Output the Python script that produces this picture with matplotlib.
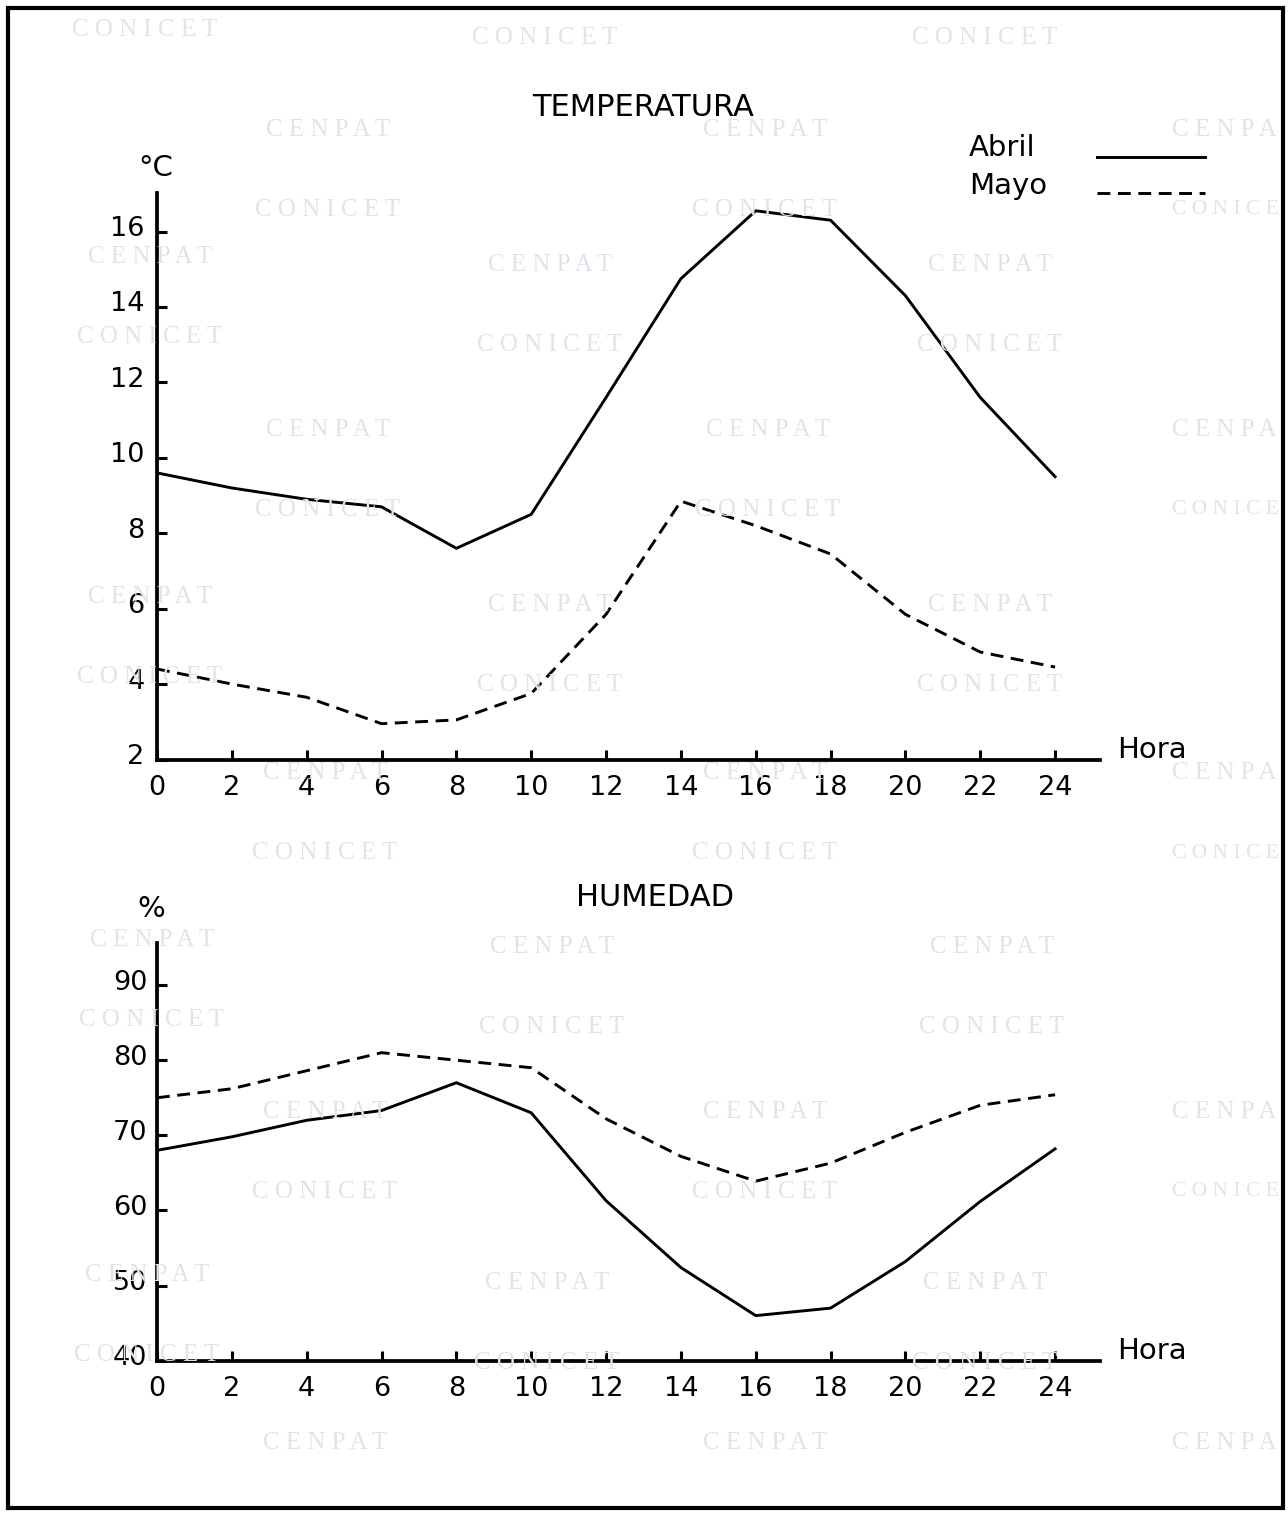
import matplotlib
matplotlib.use("Agg")
import matplotlib.pyplot as plt
from matplotlib.lines import Line2D
from matplotlib.patches import Rectangle
from matplotlib.transforms import ScaledTranslation

plt.rcParams['font.family'] = ['DejaVu Sans']

# ---------------- data ----------------
hours = [0, 2, 4, 6, 8, 10, 12, 14, 16, 18, 20, 22, 24]
temp_abril = [9.6, 9.2, 8.9, 8.7, 7.6, 8.5, 11.6, 14.75, 16.55, 16.3, 14.3, 11.6, 9.5]
temp_mayo = [4.4, 4.0, 3.65, 2.95, 3.05, 3.75, 5.85, 8.85, 8.2, 7.45, 5.85, 4.85, 4.45]
hum_abril = [68.0, 69.8, 72.0, 73.3, 77.0, 73.0, 61.3, 52.4, 46.0, 47.0, 53.2, 61.2, 68.2]
hum_mayo = [75.0, 76.2, 78.6, 81.0, 80.0, 79.0, 72.2, 67.2, 63.9, 66.3, 70.4, 74.0, 75.4]
xticks = [0, 2, 4, 6, 8, 10, 12, 14, 16, 18, 20, 22, 24]
temp_ticks = [2, 4, 6, 8, 10, 12, 14, 16]
hum_ticks = [40, 50, 60, 70, 80, 90]
series_labels = ["Abril", "Mayo"]

W, H = 1288, 1516
fig = plt.figure(figsize=(W / 100, H / 100), dpi=100)
fig.patch.set_facecolor('white')


def fx(px):
    return px / W


def fy(py):
    return 1 - py / H


# ---------------- faint watermark ----------------
wm_color = '#e0e4ea'
wm_top = [(145, 30), (545, 38), (985, 38)]
wm_pairs = [
    (328, 130), (765, 130),
    (150, 257), (550, 265), (990, 265),
    (328, 430), (768, 430),
    (150, 597), (550, 605), (990, 605),
    (325, 773), (765, 773),
    (152, 940), (552, 947), (992, 947),
    (325, 1112), (765, 1112),
    (147, 1275), (547, 1283), (985, 1283),
    (325, 1443), (765, 1443),
]
wm_right_rows = [130, 430, 773, 1112, 1443]  # cut by the page edge in the scan
wm_kw = dict(family='Liberation Serif', fontsize=18, color=wm_color,
             ha='center', va='center', zorder=0)
for x, y in wm_top:
    fig.text(fx(x), fy(y), "C O N I C E T", **wm_kw)
for x, y in wm_pairs:
    fig.text(fx(x), fy(y), "C E N P A T", **wm_kw)
    if y + 80 < H - 20:
        fig.text(fx(x), fy(y + 80), "C O N I C E T", **wm_kw)
for y in wm_right_rows:
    fig.text(fx(1172), fy(y), "C E N P A", family='Liberation Serif', fontsize=18,
             color=wm_color, ha='left', va='center', zorder=0)
    if y + 80 < H - 20:
        fig.text(fx(1172), fy(y + 80), "C O N I C E", family='Liberation Serif',
                 fontsize=15.5, color=wm_color, ha='left', va='center', zorder=0)

# ---------------- frame ----------------
fig.add_artist(Rectangle((fx(8), fy(1508)), fx(1283) - fx(8), fy(8) - fy(1508),
                         transform=fig.transFigure, fill=False, lw=3.0,
                         edgecolor='black', zorder=5))

LW_SP = 2.7
LW_LINE = 2.1
DASH = (4.4, 2.6)
TICK_FS = 19.5
TXT_FS = 21


def style_axes(ax, ylim, yticks, ypad):
    ax.set_facecolor('none')
    for s in ['top', 'right']:
        ax.spines[s].set_visible(False)
    for s in ['left', 'bottom']:
        ax.spines[s].set_linewidth(LW_SP)
    ax.set_xlim(0, 25.2)
    ax.set_ylim(*ylim)
    ax.set_xticks(xticks)
    ax.set_xticklabels([str(t) for t in xticks])
    ax.set_yticks(yticks)
    ax.set_yticklabels([str(t) for t in yticks])
    ax.tick_params(axis='both', direction='in', length=7, width=2.2,
                   labelsize=TICK_FS)
    ax.tick_params(axis='x', pad=11)
    ax.tick_params(axis='y', pad=ypad)
    for lab in ax.get_yticklabels():
        lab.set_transform(lab.get_transform() +
                          ScaledTranslation(0, 4 / 72, fig.dpi_scale_trans))


# ---------------- temperature ----------------
ax1 = fig.add_axes([fx(157), fy(759.5), fx(1100) - fx(157), fy(192.7) - fy(759.5)])
style_axes(ax1, (2, 17.03), temp_ticks, 9)
ax1.plot(hours, temp_abril, color='black', lw=LW_LINE)
ax1.plot(hours, temp_mayo, color='black', lw=LW_LINE, linestyle=(0, DASH))

# ---------------- humidity ----------------
ax2 = fig.add_axes([fx(157), fy(1360.7), fx(1100) - fx(157), fy(943) - fy(1360.7)])
style_axes(ax2, (40, 95.6), hum_ticks, 7)
ax2.plot(hours, hum_abril, color='black', lw=LW_LINE)
ax2.plot(hours, hum_mayo, color='black', lw=LW_LINE, linestyle=(0, DASH))

# ---------------- texts ----------------
fig.text(fx(643), fy(108), "TEMPERATURA", fontsize=22, ha='center', va='center')
fig.text(fx(655), fy(898), "HUMEDAD", fontsize=22, ha='center', va='center')
fig.text(fx(156), fy(168), "°C", fontsize=TXT_FS, ha='center', va='center')
fig.text(fx(151), fy(909), "%", fontsize=TXT_FS, ha='center', va='center')
fig.text(fx(1152), fy(750), "Hora", fontsize=TXT_FS, ha='center', va='center')
fig.text(fx(1152), fy(1351), "Hora", fontsize=TXT_FS, ha='center', va='center')

# legend (labels left, line samples right)
leg_styles = ['-', (0, DASH)]
leg_text_y = [148, 186]
leg_line_y = [157, 193]
for lab, ls, ty, ly in zip(series_labels, leg_styles, leg_text_y, leg_line_y):
    fig.text(fx(969), fy(ty), lab, fontsize=TXT_FS, ha='left', va='center')
    fig.add_artist(Line2D([fx(1097), fx(1205)], [fy(ly), fy(ly)],
                          transform=fig.transFigure, color='black',
                          lw=LW_LINE, linestyle=ls))

fig.savefig("out.png", dpi=100, facecolor='white')
